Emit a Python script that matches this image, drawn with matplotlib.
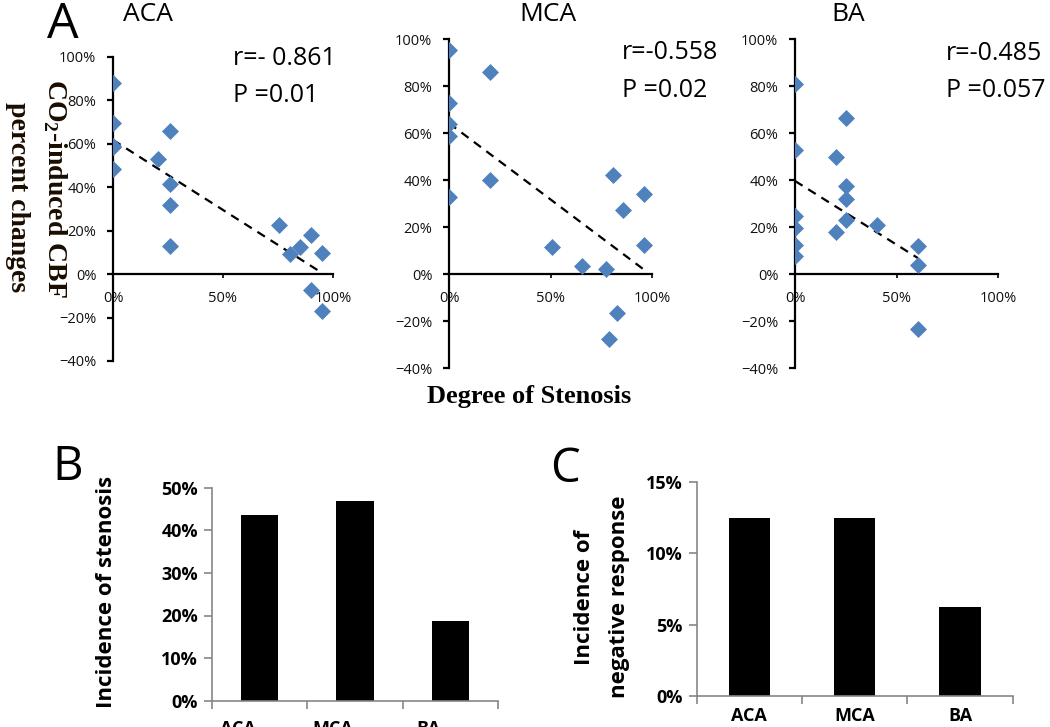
import numpy as np
import matplotlib
matplotlib.use("Agg")
import matplotlib.pyplot as plt
import matplotlib.transforms as mtransforms
from matplotlib.ticker import PercentFormatter

# --- panel A: degree of stenosis vs CO2-induced CBF change (fractions) ---
aca_x = [0, 0, 0, 0, 0, 0.204, 0.257, 0.257, 0.257, 0.257, 0.755, 0.804, 0.852, 0.902, 0.952, 0.900, 0.952]
aca_y = [0.88, 0.698, 0.59, 0.585, 0.486, 0.528, 0.658, 0.417, 0.317, 0.13, 0.225, 0.095, 0.123, 0.179, 0.098, -0.074, -0.169]

mca_x = [0, 0, 0, 0, 0, 0.204, 0.204, 0.506, 0.657, 0.771, 0.81, 0.855, 0.959, 0.959, 0.827, 0.789]
mca_y = [0.955, 0.731, 0.641, 0.587, 0.33, 0.861, 0.40, 0.115, 0.034, 0.024, 0.421, 0.272, 0.341, 0.124, -0.165, -0.276]

ba_x = [0, 0, 0, 0, 0, 0, 0.20, 0.20, 0.252, 0.252, 0.252, 0.252, 0.403, 0.605, 0.605, 0.605]
ba_y = [0.809, 0.528, 0.248, 0.196, 0.125, 0.078, 0.499, 0.18, 0.667, 0.376, 0.319, 0.23, 0.209, 0.121, 0.038, -0.234]

scatter_titles = ["ACA", "MCA", "BA"]
r_texts = ["r=- 0.861", "r=-0.558", "r=-0.485"]
p_texts = ["P =0.01", "P =0.02", "P =0.057"]

# --- panels B and C ---
vessels = ["ACA", "MCA", "BA"]
stenosis_incidence = [0.435, 0.469, 0.1875]
negative_incidence = [0.125, 0.125, 0.0625]

W, H = 1050, 727
plt.rcParams['mathtext.fontset'] = 'custom'
plt.rcParams['mathtext.bf'] = 'Liberation Serif:bold'
plt.rcParams['mathtext.rm'] = 'Liberation Serif:bold'

fig = plt.figure(figsize=(W / 100, H / 100), dpi=100)
sans = "Open Sans"


def fx(px):
    return px / W


def fy(py):
    return 1 - py / H


def ax_rect(left, right, top, bottom):
    return [fx(left), fy(bottom), fx(right) - fx(left), fy(top) - fy(bottom)]


scatter_rects = [ax_rect(113, 333, 57, 361), ax_rect(449, 652, 39.3, 368.3), ax_rect(795, 998, 39.3, 368.3)]
title_x = [148, 548, 848]
stat_pos = [(233, 65, 102), (622, 59, 97), (946, 60, 97)]
blue = "#4F81BD"

for i, (xs, ys) in enumerate([(aca_x, aca_y), (mca_x, mca_y), (ba_x, ba_y)]):
    ax = fig.add_axes(scatter_rects[i])
    ax.scatter(xs, ys, marker="D", s=75, color=blue, zorder=3, linewidths=0)
    k, b = np.polyfit(xs, ys, 1)
    xl = np.array([0, max(xs)])
    ax.plot(xl, k * xl + b, color="black", linestyle=(0, (4, 3)), linewidth=1.6, zorder=2)
    ax.set_xlim(0, 1)
    ax.set_ylim(-0.4, 1.0)
    ax.spines["top"].set_visible(False)
    ax.spines["right"].set_visible(False)
    ax.spines["bottom"].set_position(("data", 0))
    for s in ("left", "bottom"):
        ax.spines[s].set_linewidth(1.6)
    ax.set_yticks(np.arange(-0.4, 1.01, 0.2))
    ax.set_xticks([0, 0.5, 1])
    ax.yaxis.set_major_formatter(PercentFormatter(1.0, decimals=0))
    ax.xaxis.set_major_formatter(PercentFormatter(1.0, decimals=0))
    ax.tick_params(axis="y", direction="out", length=4, width=1.6, labelsize=10.5, pad=8)
    ax.tick_params(axis="x", direction="out", length=3, width=1.2, labelsize=10.5, pad=9)
    for lab in ax.get_xticklabels() + ax.get_yticklabels():
        lab.set_family(sans)
        lab.set_color("#111111")
    ax.patch.set_alpha(0)
    fig.text(fx(title_x[i]), fy(20.7), scatter_titles[i], ha="center", va="baseline",
             fontsize=19, family=sans)
    sx, ry, py = stat_pos[i]
    fig.text(fx(sx), fy(ry), r_texts[i], ha="left", va="baseline", fontsize=18, family=sans)
    fig.text(fx(sx), fy(py), p_texts[i], ha="left", va="baseline", fontsize=18, family=sans)

fig.text(fx(47), fy(38), "A", fontsize=36, family=sans, va="baseline", ha="left")
fig.text(fx(55), fy(188), r"CO$_2$-induced CBF", rotation=-90, ha="center", va="center",
         fontsize=20, family="Liberation Serif", fontweight="bold", color="#1a0d00")
fig.text(fx(17), fy(197), "percent changes", rotation=-90, ha="center", va="center",
         fontsize=20, family="Liberation Serif", fontweight="bold", color="#1a0d00")
fig.text(fx(529), fy(397), "Degree of Stenosis", ha="center", va="center",
         fontsize=19, family="Liberation Serif", fontweight="bold")

# --- bar panels ---
gray = "#868686"
bar_specs = [
    (ax_rect(212, 498, 487.7, 700.7), stenosis_incidence, 0.5, np.arange(0, 0.51, 0.1), 14, -22),
    (ax_rect(696.7, 1012.7, 482.3, 695.7), negative_incidence, 0.15, np.arange(0, 0.151, 0.05), 8, 0),
]
for rect, vals, ymax, yt, xpad, shift in bar_specs:
    ax = fig.add_axes(rect)
    pos = np.arange(len(vessels)) + 0.5
    ax.bar(pos, vals, width=0.39, color="black")
    ax.set_xlim(0, 3)
    ax.set_ylim(0, ymax)
    ax.spines["top"].set_visible(False)
    ax.spines["right"].set_visible(False)
    for s in ("left", "bottom"):
        ax.spines[s].set_color(gray)
        ax.spines[s].set_linewidth(1.2)
    ax.set_yticks(yt)
    ax.yaxis.set_major_formatter(PercentFormatter(1.0, decimals=0))
    ax.set_xticks([0, 1, 2, 3])
    ax.set_xticklabels([])
    ax.set_xticks(pos, minor=True)
    ax.set_xticklabels(vessels, minor=True)
    ax.tick_params(axis="x", which="minor", length=0, pad=xpad, labelsize=13)
    ax.tick_params(axis="x", which="major", length=6, color=gray, width=1.2)
    ax.tick_params(axis="y", length=6, color=gray, width=1.2, labelsize=13, pad=4)
    for lab in ax.get_xticklabels(minor=True) + ax.get_yticklabels():
        lab.set_family(sans)
        lab.set_fontweight("bold")
    if shift:
        off = mtransforms.ScaledTranslation(shift / 100, 0, fig.dpi_scale_trans)
        for lab in ax.get_xticklabels(minor=True):
            lab.set_transform(lab.get_transform() + off)

fig.text(fx(52), fy(480), "B", fontsize=34, family=sans, va="baseline", ha="left")
fig.text(fx(550), fy(482), "C", fontsize=34, family=sans, va="baseline", ha="left")
fig.text(fx(107), fy(592), "Incidence of stenosis", rotation=90, ha="center", va="center",
         fontsize=16, family=sans, fontweight="bold")
fig.text(fx(585), fy(597), "Incidence of", rotation=90, ha="center", va="center",
         fontsize=16, family=sans, fontweight="bold")
fig.text(fx(620), fy(597), "negative response", rotation=90, ha="center", va="center",
         fontsize=16, family=sans, fontweight="bold")

fig.savefig("out.png", dpi=100)
